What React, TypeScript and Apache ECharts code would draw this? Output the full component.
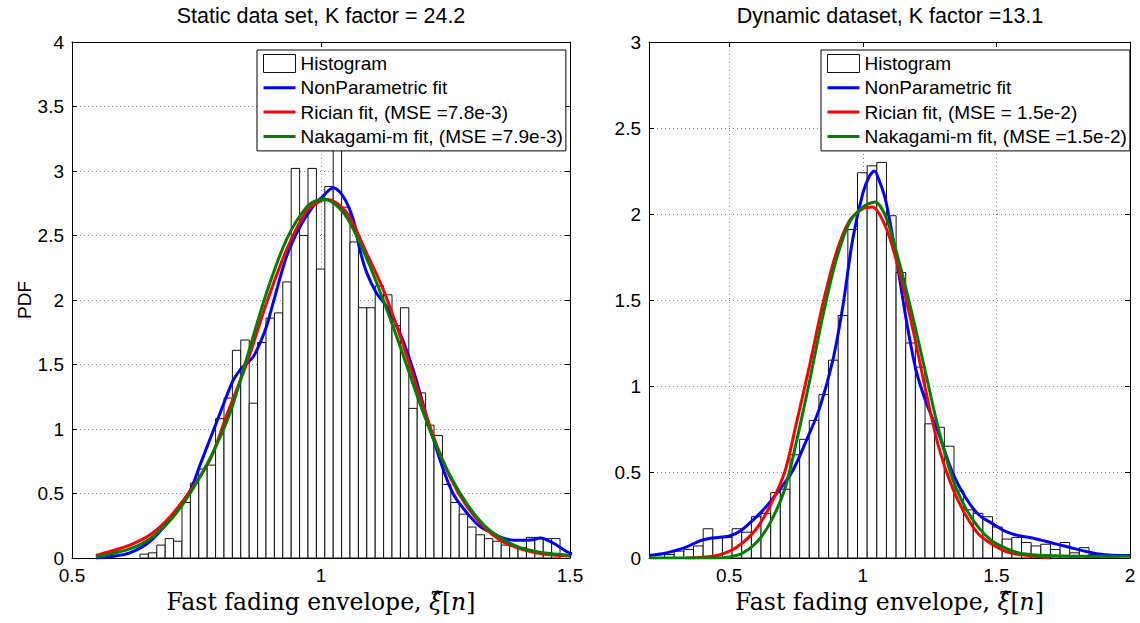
import React, { useEffect, useRef } from 'react';
import * as echarts from 'echarts';

// ---------- DATA ----------
const leftTitle = 'Static data set, K factor = 24.2';
const rightTitle = 'Dynamic dataset, K factor =13.1';

const leftXTicks = [0.5, 1, 1.5];
const rightXTicks = [0.5, 1, 1.5, 2];

const leftHistStart = 0.6365;
const leftBinWidth = 0.01687;
const leftHist = [
  0.03, 0.04, 0.10, 0.15, 0.13, 0.43, 0.58, 0.69, 0.72, 1.08,
  1.24, 1.61, 1.69, 1.20, 1.67, 1.86, 1.90, 2.14, 3.02, 2.50,
  3.02, 2.24, 2.88, 3.30, 2.72, 2.45, 1.94, 1.94, 2.11, 2.04,
  1.80, 1.94, 1.16, 1.28, 1.03, 0.95, 0.57, 0.43, 0.34, 0.24,
  0.18, 0.15, 0.13, 0.10, 0.09, 0.08, 0.16, 0.16, 0.15, 0.15,
];

const rightHistStart = 0.2222;
const rightBinWidth = 0.0361;
const rightHist = [
  0.02, 0.02, 0.04, 0.05, 0.07, 0.17, 0.12, 0.12, 0.17, 0.15,
  0.24, 0.26, 0.38, 0.40, 0.60, 0.69, 0.80, 0.95, 1.15, 1.41,
  1.91, 2.24, 2.28, 2.30, 1.99, 1.66, 1.25, 1.11, 0.78, 0.76,
  0.65, 0.39, 0.28, 0.26, 0.24, 0.18, 0.11, 0.12, 0.09, 0.07,
  0.08, 0.05, 0.09, 0.03, 0.06, 0.02, 0.01, 0.01,
];

const leftNonParam = [
  [0.548, 0.0], [0.576, 0.01], [0.616, 0.04], [0.657, 0.13], [0.697, 0.30],
  [0.737, 0.52], [0.757, 0.72], [0.777, 0.92], [0.797, 1.12], [0.81, 1.25],
  [0.824, 1.38], [0.838, 1.46], [0.851, 1.51], [0.864, 1.56], [0.878, 1.67],
  [0.891, 1.80], [0.904, 1.98], [0.931, 2.34], [0.958, 2.57], [0.985, 2.73],
  [1.0, 2.79], [1.025, 2.87], [1.045, 2.80], [1.065, 2.62], [1.078, 2.39],
  [1.092, 2.21], [1.112, 2.05], [1.132, 1.95], [1.159, 1.74], [1.185, 1.46],
  [1.212, 1.10], [1.239, 0.76], [1.265, 0.50], [1.293, 0.35], [1.319, 0.245],
  [1.346, 0.19], [1.372, 0.147], [1.40, 0.137], [1.426, 0.142], [1.44, 0.155],
  [1.466, 0.116], [1.493, 0.05], [1.505, 0.03],
];
const leftRician = [
  [0.548, 0.02], [0.576, 0.05], [0.616, 0.10], [0.657, 0.18], [0.697, 0.32],
  [0.737, 0.52], [0.777, 0.76], [0.81, 1.10], [0.851, 1.51], [0.891, 1.98],
  [0.931, 2.39], [0.971, 2.69], [1.0, 2.77], [1.013, 2.78], [1.035, 2.74],
  [1.058, 2.64], [1.092, 2.36], [1.125, 2.08], [1.159, 1.72], [1.192, 1.33],
  [1.226, 0.94], [1.259, 0.63], [1.293, 0.40], [1.326, 0.245], [1.359, 0.14],
  [1.393, 0.08], [1.426, 0.045], [1.46, 0.026], [1.50, 0.015],
];
const leftNakagami = [
  [0.548, 0.01], [0.576, 0.03], [0.616, 0.07], [0.657, 0.15], [0.697, 0.29],
  [0.737, 0.50], [0.777, 0.77], [0.817, 1.12], [0.851, 1.55], [0.891, 2.06],
  [0.931, 2.47], [0.971, 2.72], [1.0, 2.78], [1.008, 2.78], [1.035, 2.72],
  [1.058, 2.60], [1.092, 2.32], [1.125, 2.00], [1.159, 1.64], [1.192, 1.27],
  [1.226, 0.92], [1.259, 0.64], [1.293, 0.42], [1.326, 0.26], [1.359, 0.16],
  [1.393, 0.09], [1.426, 0.055], [1.46, 0.035], [1.50, 0.02],
];

const rightNonParam = [
  [0.2, 0.015], [0.25, 0.025], [0.291, 0.04], [0.341, 0.065], [0.39, 0.10],
  [0.43, 0.115], [0.465, 0.12], [0.502, 0.128], [0.54, 0.155], [0.589, 0.22],
  [0.639, 0.30], [0.68, 0.38], [0.735, 0.50], [0.788, 0.68], [0.838, 0.87],
  [0.888, 1.15], [0.925, 1.46], [0.962, 1.85], [1.0, 2.12], [1.025, 2.22],
  [1.043, 2.25], [1.065, 2.18], [1.087, 2.07], [1.124, 1.76], [1.161, 1.40],
  [1.198, 1.10], [1.236, 0.91], [1.285, 0.72], [1.335, 0.50], [1.385, 0.35],
  [1.435, 0.25], [1.485, 0.20], [1.534, 0.155], [1.584, 0.13], [1.634, 0.116],
  [1.684, 0.097], [1.733, 0.078], [1.783, 0.058], [1.833, 0.039], [1.883, 0.023],
  [1.932, 0.016], [2.0, 0.014],
];
const rightRician = [
  [0.34, 0.0], [0.44, 0.01], [0.502, 0.04], [0.552, 0.09], [0.602, 0.17],
  [0.652, 0.30], [0.708, 0.50], [0.751, 0.78], [0.801, 1.12], [0.851, 1.48],
  [0.9, 1.77], [0.95, 1.96], [1.0, 2.03], [1.035, 2.04], [1.087, 1.92],
  [1.136, 1.67], [1.186, 1.34], [1.236, 0.97], [1.285, 0.64], [1.335, 0.41],
  [1.385, 0.25], [1.435, 0.136], [1.485, 0.078], [1.534, 0.039], [1.584, 0.02],
  [1.646, 0.01], [1.70, 0.0],
];
const rightNakagami = [
  [0.2, 0.0], [0.45, 0.0], [0.502, 0.006], [0.552, 0.03], [0.602, 0.09],
  [0.652, 0.20], [0.708, 0.40], [0.751, 0.67], [0.801, 1.03], [0.851, 1.41],
  [0.9, 1.73], [0.95, 1.95], [1.0, 2.04], [1.045, 2.07], [1.087, 1.98],
  [1.136, 1.72], [1.186, 1.41], [1.236, 1.07], [1.285, 0.74], [1.335, 0.465],
  [1.385, 0.29], [1.435, 0.174], [1.485, 0.097], [1.534, 0.058], [1.584, 0.029],
  [1.634, 0.019], [1.684, 0.014], [1.8, 0.01], [2.0, 0.01],
];

const leftNames = ['Histogram', 'NonParametric fit', 'Rician fit, (MSE =7.8e-3)', 'Nakagami-m fit, (MSE =7.9e-3)'];
const rightNames = ['Histogram', 'NonParametric fit', 'Rician fit, (MSE = 1.5e-2)', 'Nakagami-m fit, (MSE =1.5e-2)'];

// ---------- STYLE ----------
const SANS = "'Liberation Sans', Arial, Helvetica, sans-serif";
const SERIF = "'DejaVu Serif', 'Liberation Serif', serif";
const BLUE = '#0000ff';
const RED = '#ff0000';
const GREEN = '#008000';
const TICK_FONT = 19;
const LINE_ICON = 'path://M0,0L32,0L32,3L0,3Z';

function toBins(start: number, width: number, heights: number[]) {
  return heights.map((h, i) => [start + i * width, start + (i + 1) * width, h]);
}

function histRender(params: any, api: any) {
  const x0 = api.value(0);
  const x1 = api.value(1);
  const h = api.value(2);
  const p0 = api.coord([x0, h]);
  const p1 = api.coord([x1, 0]);
  return {
    type: 'rect',
    shape: { x: p0[0], y: p0[1], width: p1[0] - p0[0], height: p1[1] - p0[1] },
    style: { fill: '#ffffff', stroke: '#111111', lineWidth: 1 },
  };
}

const gridLine = { show: true, lineStyle: { color: '#8a8a8a', type: [1, 3] as any, width: 1 } };
const axisLineStyle = { show: true, onZero: false, lineStyle: { color: '#000', width: 1 } };

function makeXAxes(gridIndex: number, min: number, max: number, ticks: number[]) {
  const tick = { show: true, inside: true, length: 5, customValues: ticks, lineStyle: { color: '#000' } };
  return [
    {
      type: 'value', gridIndex, min, max, position: 'bottom',
      axisLine: axisLineStyle,
      axisTick: tick,
      axisLabel: { show: true, customValues: ticks, margin: 8, color: '#000', fontSize: TICK_FONT, fontFamily: SANS },
      splitLine: gridLine,
      name: 'Fast fading envelope, {i|\u03BE\u0302}[{i|n}]',
      nameLocation: 'middle',
      nameGap: 31,
      nameTextStyle: {
        color: '#000', fontSize: 23.5, fontFamily: SERIF,
        rich: { i: { fontStyle: 'italic', fontSize: 23.5, fontFamily: SERIF, color: '#000' } },
      },
    },
    {
      type: 'value', gridIndex, min, max, position: 'top',
      axisLine: axisLineStyle,
      axisTick: tick,
      axisLabel: { show: false },
      splitLine: { show: false },
    },
  ];
}

function makeYAxes(gridIndex: number, max: number, withName: boolean) {
  const tick = { show: true, inside: true, length: 5, lineStyle: { color: '#000' } };
  return [
    {
      type: 'value', gridIndex, min: 0, max, interval: 0.5, position: 'left',
      axisLine: axisLineStyle,
      axisTick: tick,
      axisLabel: { show: true, margin: 8, color: '#000', fontSize: TICK_FONT, fontFamily: SANS },
      splitLine: gridLine,
      name: withName ? 'PDF' : '',
      nameLocation: 'middle',
      nameGap: 35,
      nameTextStyle: { color: '#000', fontSize: 19, fontFamily: SANS },
    },
    {
      type: 'value', gridIndex, min: 0, max, interval: 0.5, position: 'right',
      axisLine: axisLineStyle,
      axisTick: tick,
      axisLabel: { show: false },
      splitLine: { show: false },
    },
  ];
}

function makeSeries(names: string[], axisIdx: number, hist: number[][], np: number[][], ric: number[][], nak: number[][]) {
  const line = (name: string, data: number[][], color: string, z: number) => ({
    type: 'line', name, data, xAxisIndex: axisIdx, yAxisIndex: axisIdx,
    showSymbol: false, symbol: 'none', smooth: 0.3, clip: true, z,
    lineStyle: { width: 3, color }, itemStyle: { color },
  });
  return [
    {
      type: 'custom', name: names[0], data: hist, xAxisIndex: axisIdx, yAxisIndex: axisIdx,
      renderItem: histRender, encode: { x: [0, 1], y: 2 }, clip: true, z: 1,
      itemStyle: { color: '#ffffff', borderColor: '#111111', borderWidth: 1 },
    },
    line(names[1], np, BLUE, 3),
    line(names[2], ric, RED, 4),
    line(names[3], nak, GREEN, 5),
  ];
}

function makeLegend(names: string[], left: number, colors: string[]) {
  return {
    orient: 'vertical', left, top: 50,
    padding: [4, 3, 5, 6],
    itemWidth: 32, itemHeight: 18, itemGap: 5.3,
    backgroundColor: '#ffffff', borderColor: '#000', borderWidth: 1, borderRadius: 0,
    selectedMode: false,
    textStyle: { color: '#000', fontSize: 19, fontFamily: SANS, lineHeight: 18 },
    data: [
      { name: names[0], icon: 'rect', itemStyle: { color: '#ffffff', borderColor: '#111111', borderWidth: 1 } },
      { name: names[1], icon: LINE_ICON, itemStyle: { color: colors[0], borderWidth: 0 } },
      { name: names[2], icon: LINE_ICON, itemStyle: { color: colors[1], borderWidth: 0 } },
      { name: names[3], icon: LINE_ICON, itemStyle: { color: colors[2], borderWidth: 0 } },
    ],
    z: 10,
  };
}

export default function App() {
  const ref = useRef<HTMLDivElement>(null);
  useEffect(() => {
    if (!ref.current) return;
    const chart = echarts.init(ref.current, undefined, { renderer: 'svg' });
    const option: any = {
      animation: false,
      backgroundColor: '#ffffff',
      title: [
        { text: leftTitle, left: 321, top: 5, textAlign: 'center', padding: 0,
          textStyle: { fontSize: 21.5, fontWeight: 'normal', color: '#000', fontFamily: SANS } },
        { text: rightTitle, left: 890, top: 5, textAlign: 'center', padding: 0,
          textStyle: { fontSize: 21.5, fontWeight: 'normal', color: '#000', fontFamily: SANS } },
      ],
      grid: [
        { left: 72, top: 42, width: 498, height: 516 },
        { left: 649, top: 42, width: 481, height: 516 },
      ],
      xAxis: [
        ...makeXAxes(0, 0.5, 1.5, leftXTicks),
        ...makeXAxes(1, 0.2, 2, rightXTicks),
      ],
      yAxis: [
        ...makeYAxes(0, 4, true),
        ...makeYAxes(1, 3, false),
      ],
      legend: [
        makeLegend(leftNames, 257, [BLUE, RED, GREEN]),
        makeLegend(rightNames, 821, [BLUE, RED, GREEN]),
      ],
      series: [
        ...makeSeries(leftNames, 0, toBins(leftHistStart, leftBinWidth, leftHist), leftNonParam, leftRician, leftNakagami),
        ...makeSeries(rightNames, 2, toBins(rightHistStart, rightBinWidth, rightHist), rightNonParam, rightRician, rightNakagami),
      ],
    };
    chart.setOption(option);
    return () => chart.dispose();
  }, []);
  return (
    <div
      ref={ref}
      style={{ position: 'fixed', left: 0, top: 0, width: 1140, height: 623, background: '#fff' }}
    />
  );
}
